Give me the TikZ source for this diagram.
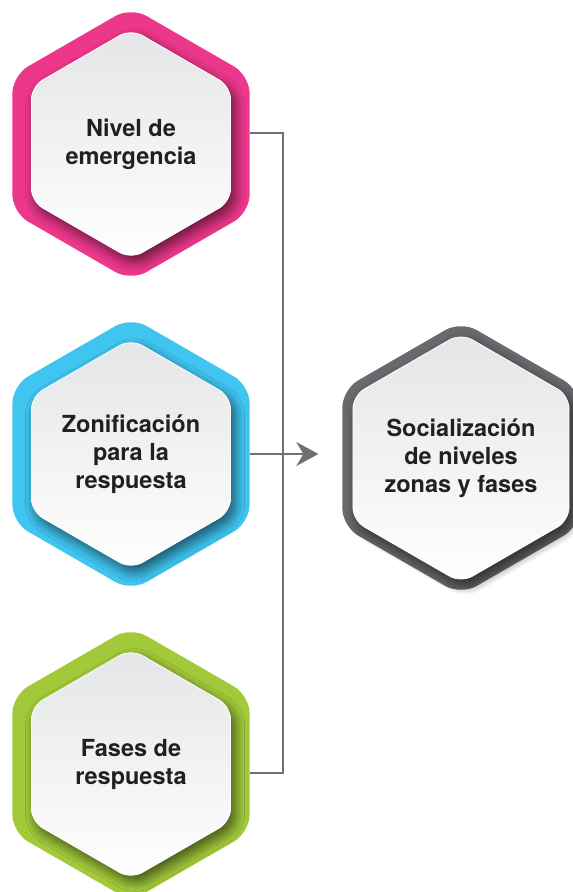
\documentclass[tikz,border=0pt]{standalone}
\usepackage{fontspec}
\setmainfont{TeX Gyre Heros}
\usepackage{tikz}
\usetikzlibrary{arrows.meta, shapes.geometric, shadows.blur}
\definecolor{hexpink}{RGB}{236, 55, 139}
\definecolor{hexblue}{RGB}{64, 196, 240}
\definecolor{hexgreen}{RGB}{162, 201, 58}
\definecolor{hexgray}{RGB}{104, 106, 110}
\definecolor{linegray}{RGB}{110, 112, 116}
\definecolor{facetop}{RGB}{228, 229, 230}
\definecolor{inkdark}{RGB}{35, 31, 32}
\tikzset{
    hexband/.style ={regular polygon, regular polygon sides=6,
                     shape border rotate=30, minimum size=274pt,
                     inner sep=0pt, outer sep=0pt, rounded corners=18pt},
    hexface/.style ={regular polygon, regular polygon sides=6,
                     shape border rotate=30, minimum size=230pt,
                     inner sep=0pt, outer sep=0pt, rounded corners=13pt,
                     top color=facetop, bottom color=white,
                     draw=white, line width=0.8pt,
                     blur shadow={shadow xshift=4pt, shadow yshift=-6pt,
                                  shadow blur radius=10pt, shadow blur steps=12,
                                  shadow opacity=60},
                     align=center, text=inkdark,
                     font=\fontsize{23.5}{28}\selectfont\bfseries},
    conn/.style    ={draw=linegray, line width=2pt},
    arr/.style     ={conn, -{Stealth[length=22pt, width=24pt, inset=7pt]}}
}

\begin{document}
\begin{tikzpicture}[x=1pt, y=1pt]
  \useasboundingbox (0,0) rectangle (573,-892);

  % colour bands
  \node[hexband, fill=hexpink]  (nivel)  at (131,-144) {};
  \node[hexband, fill=hexblue]  (zona)   at (131,-454) {};
  \node[hexband, fill=hexgreen] (fases)  at (131,-764) {};
  \node[hexband, fill=hexgray]  (social) at (461,-458) {};

  % white faces
  \node[hexface] (nivel-f)  at (nivel)  {Nivel de\\emergencia};
  \node[hexface] (zona-f)   at (zona)   {Zonificación\\para la\\respuesta};
  \node[hexface] (fases-f)  at (fases)  {Fases de\\respuesta};
  \node[hexface] (social-f) at (social) {Socialización\\de niveles\\zonas y fases};

  % connectors
  \coordinate (bus) at (283,-454);
  \draw[conn] ([yshift=11pt]nivel.east) -| (bus) |- ([yshift=-9pt]fases.east);
  \draw[arr] (zona.east) -- ([xshift=-24pt]zona.east -| social.west);
\end{tikzpicture}
\end{document}
